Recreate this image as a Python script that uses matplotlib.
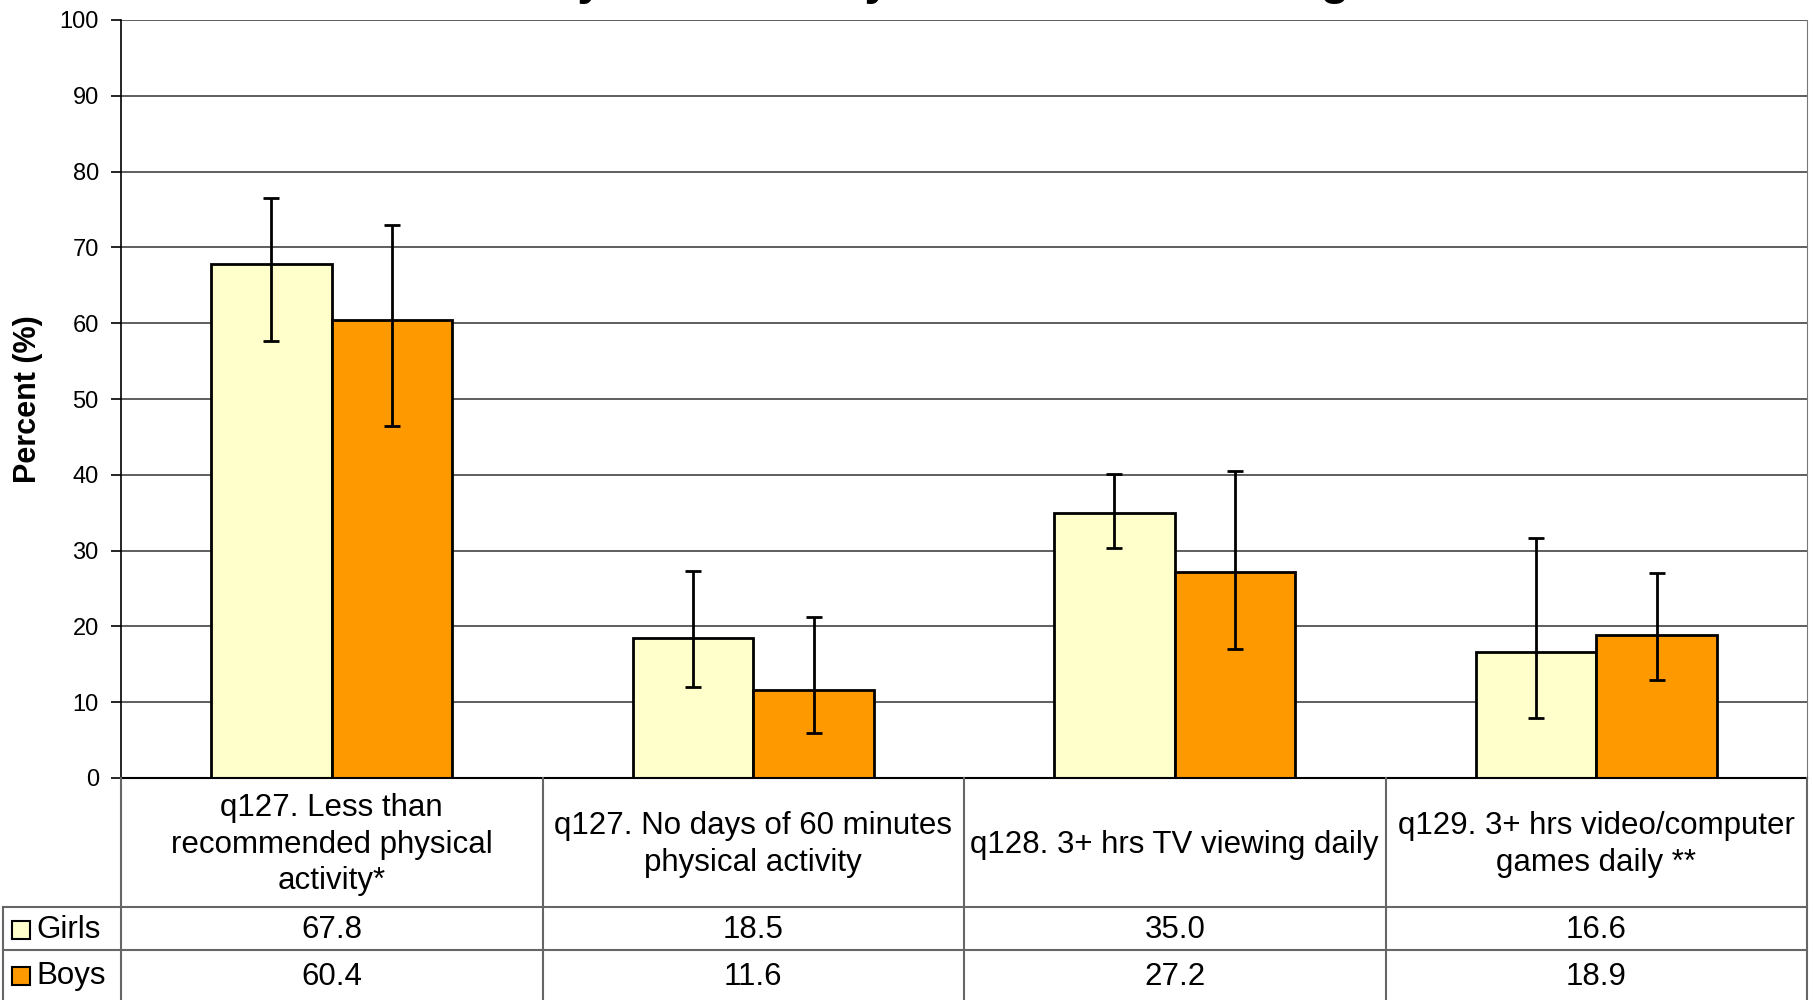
import matplotlib
matplotlib.use("Agg")
import matplotlib.pyplot as plt
import numpy as np

plt.rcParams['font.family'] = ['Liberation Sans', 'DejaVu Sans']

categories = ["q127. Less than\nrecommended physical\nactivity*",
              "q127. No days of 60 minutes\nphysical activity",
              "q128. 3+ hrs TV viewing daily",
              "q129. 3+ hrs video/computer\ngames daily **"]
series_names = ["Girls", "Boys"]
girls = [67.8, 18.5, 35.0, 16.6]
boys = [60.4, 11.6, 27.2, 18.9]
girls_lo = [57.7, 12.0, 30.3, 7.9]
girls_hi = [76.5, 27.3, 40.1, 31.6]
boys_lo = [46.5, 6.0, 17.0, 12.9]
boys_hi = [73.0, 21.3, 40.5, 27.0]
yticks = list(range(0, 101, 10))
title = "Physical Activity and Screen Viewing"

colors = ["#FFFFCC", "#FF9900"]

W, H = 1813, 1000
fig = plt.figure(figsize=(W / 100, H / 100), dpi=100)

L, R, T, B = 121, 1807, 20, 778
ax = fig.add_axes([L / W, 1 - B / H, (R - L) / W, (B - T) / H])

n = len(categories)
x = np.arange(n)
bw = 0.286
for vals, lo, hi, c, off in [(girls, girls_lo, girls_hi, colors[0], -bw / 2),
                             (boys, boys_lo, boys_hi, colors[1], bw / 2)]:
    vals = np.array(vals)
    ax.bar(x + off, vals, width=bw, color=c, edgecolor='black', linewidth=2.0, zorder=3)
    yerr = np.array([vals - np.array(lo), np.array(hi) - vals])
    ax.errorbar(x + off, vals, yerr=yerr, fmt='none', ecolor='black',
                elinewidth=2.0, capsize=5.5, capthick=2.0, zorder=4)

ax.set_xlim(-0.5, n - 0.5)
ax.set_ylim(0, 100)
ax.set_yticks(yticks)
ax.set_yticklabels([str(v) for v in yticks], fontsize=17)
ax.set_xticks([])
ax.yaxis.grid(True, color='#333333', linewidth=1.1, zorder=0)
ax.set_axisbelow(True)
for s in ['top', 'bottom']:
    ax.spines[s].set_visible(False)
ax.spines['left'].set_linewidth(1.2)
ax.spines['right'].set_color('#777777')
ax.tick_params(axis='y', length=7, width=1.2, pad=9)
ax.set_ylabel("Percent (%)", fontsize=22, fontweight='bold')
ax.yaxis.set_label_coords(-(L - 43) / (R - L), 0.5)

# Table overlay
tab = fig.add_axes([0, 0, 1, 1])
tab.set_xlim(0, W)
tab.set_ylim(H, 0)
tab.axis('off')
tab.patch.set_alpha(0)

cw = (R - L) / n
hdr_bot = 907
row2 = 950
grey = '#666666'
tab.plot([L, R], [B, B], color='black', lw=1.5)
tab.plot([L, L], [B, H], color=grey, lw=1.5)
for i in range(1, n + 1):
    xx = L + i * cw
    tab.plot([xx, xx], [B, H], color=grey, lw=1.5)
tab.plot([3, R], [hdr_bot, hdr_bot], color=grey, lw=1.5)
tab.plot([3, R], [row2, row2], color=grey, lw=1.5)
tab.plot([3, 3], [hdr_bot, H], color=grey, lw=1.5)

fs = 22.5
for i, cat in enumerate(categories):
    cx = L + (i + 0.5) * cw
    tab.text(cx, (B + hdr_bot) / 2 + 2, cat, ha='center', va='center', fontsize=fs,
             linespacing=1.3)
    tab.text(cx, (hdr_bot + row2) / 2 + 1, f"{girls[i]:.1f}", ha='center', va='center', fontsize=fs)
    tab.text(cx, (row2 + H) / 2 + 2, f"{boys[i]:.1f}", ha='center', va='center', fontsize=fs)

for name, c, (y0, y1) in [(series_names[0], colors[0], (hdr_bot, row2)),
                          (series_names[1], colors[1], (row2, H))]:
    cy = (y0 + y1) / 2 + 1
    tab.add_patch(plt.Rectangle((12, cy - 9), 18, 18, facecolor=c, edgecolor='black', lw=1.5))
    tab.text(36, cy, name, ha='left', va='center', fontsize=fs)

fig.text(0.515, 1 + 6 / H, title, ha='center', va='baseline', fontsize=34, fontweight='bold')

fig.savefig("out.png", dpi=100)
